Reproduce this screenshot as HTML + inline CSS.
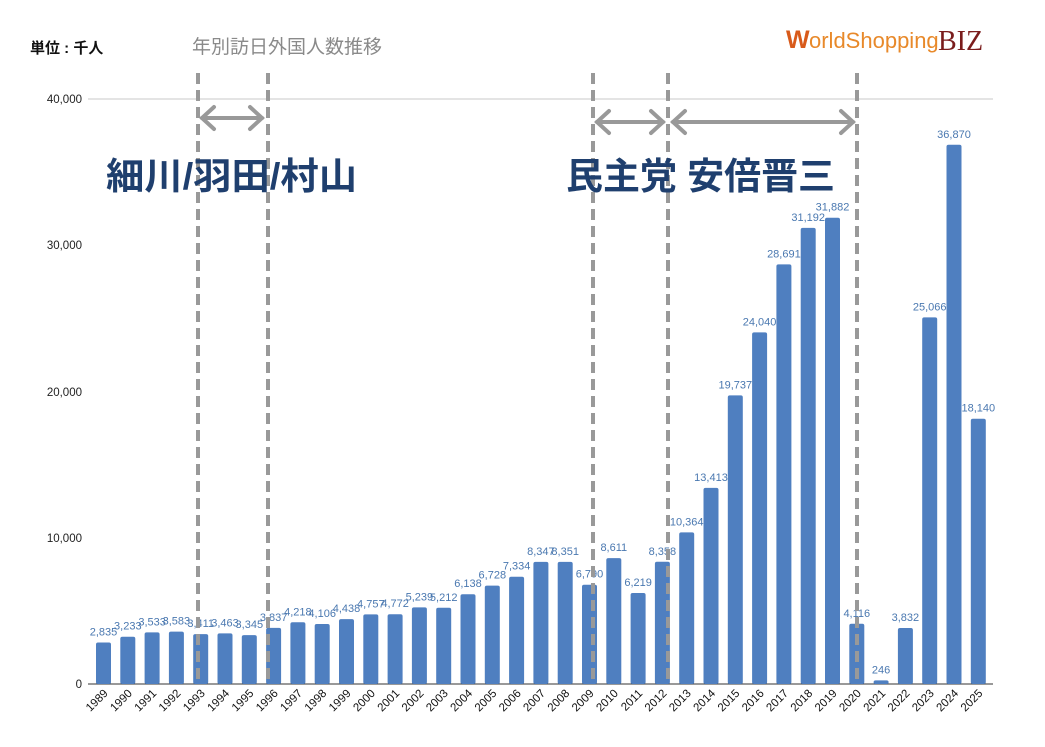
<!DOCTYPE html>
<html><head><meta charset="utf-8"><style>
body{margin:0;background:#fff;}
svg{display:block;font-family:"Liberation Sans","Noto Sans CJK JP",sans-serif;}
</style></head><body>
<svg id="s" width="1045" height="747" viewBox="0 0 1045 747" xmlns="http://www.w3.org/2000/svg">
<rect width="1045" height="747" fill="#fff"/>
<text x="30" y="53" font-size="15" font-weight="bold" fill="#111">単位 : 千人</text>
<text x="192" y="53" font-size="19" fill="#8a8a8a">年別訪日外国人数推移</text>
<g font-size="25">
<text x="786" y="48" fill="#d85a1a" font-weight="bold">W</text>
<text x="809" y="48" fill="#e8892a" font-size="22">orldShopping</text>
<text x="938" y="50" fill="#7a1c1c" font-family="Liberation Serif,serif" font-size="28">BIZ</text>
</g>
<line x1="88" y1="99" x2="993" y2="99" stroke="#c8c8c8" stroke-width="1"/>
<line x1="88" y1="684" x2="993" y2="684" stroke="#333" stroke-width="1"/>
<g font-size="11.5" fill="#222" text-anchor="end">
<text x="82" y="103">40,000</text>
<text x="82" y="249">30,000</text>
<text x="82" y="396">20,000</text>
<text x="82" y="542">10,000</text>
<text x="82" y="688">0</text>
</g>
<g id="bars"></g>
<g stroke="#999" stroke-width="4" stroke-dasharray="11,6">
<line x1="198" y1="73" x2="198" y2="684"/>
<line x1="268" y1="73" x2="268" y2="684"/>
<line x1="593" y1="73" x2="593" y2="684"/>
<line x1="668" y1="73" x2="668" y2="684"/>
<line x1="857" y1="73" x2="857" y2="684"/>
</g>
<g stroke="#999" stroke-width="4" fill="none" stroke-linecap="round">
<line x1="202" y1="118" x2="262" y2="118"/><polyline points="214,107 202,118 214,129"/><polyline points="250,107 262,118 250,129"/>
<line x1="597" y1="122" x2="663" y2="122"/><polyline points="609,111 597,122 609,133"/><polyline points="651,111 663,122 651,133"/>
<line x1="673" y1="122" x2="853" y2="122"/><polyline points="685,111 673,122 685,133"/><polyline points="841,111 853,122 841,133"/>
</g>
<g font-size="37" font-weight="bold" fill="#1f3f6e">
<text x="106" y="189" textLength="251" lengthAdjust="spacingAndGlyphs">細川/羽田/村山</text>
<text x="566" y="189" textLength="269" lengthAdjust="spacingAndGlyphs">民主党 安倍晋三</text>
</g>
</svg>
<script>
var v=[2835,3233,3533,3583,3411,3463,3345,3837,4218,4106,4438,4757,4772,5239,5212,6138,6728,7334,8347,8351,6790,8611,6219,8358,10364,13413,19737,24040,28691,31192,31882,4116,246,3832,25066,36870,18140];
var g=document.getElementById('bars'),h='';
for(var i=0;i<v.length;i++){var cx=103.5+i*24.3,bh=v[i]/10000*146.25,y=684-bh;
h+='<rect x="'+(cx-7.5)+'" y="'+y+'" width="15" height="'+bh+'" rx="2" fill="#4f7fc0"/>';
h+='<text x="'+cx+'" y="'+(y-7)+'" font-size="11" fill="#4a78b0" text-anchor="middle">'+v[i].toLocaleString('en-US')+'</text>';
h+='<text transform="translate('+(cx+5)+',694) rotate(-45)" font-size="11.5" fill="#111" text-anchor="end">'+(1989+i)+'</text>';}
g.innerHTML=h;
</script>
</body></html>
